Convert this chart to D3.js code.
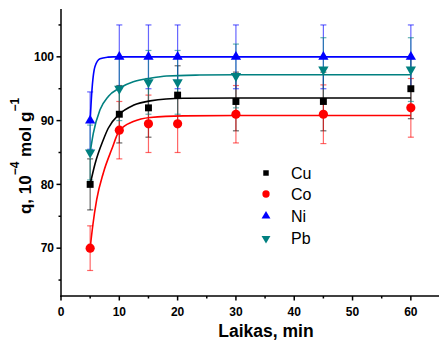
<!DOCTYPE html>
<html lang="en">
<head>
    <meta charset="UTF-8">
    <title>q vs Laikas</title>
    <style>
        body { margin: 0; background: #fff; }
        svg { display: block; font-family: 'Liberation Sans', Arial, sans-serif; }
    </style>
</head>
<body>
    <svg width="439" height="340"></svg>
    <script src="https://d3js.org/d3.v7.min.js"></script>
    <script>
        // Measured points (time, min)
        const times = [5, 10, 15, 20, 30, 45, 60];
        const cuValues = [80, 91, 92, 94, 93, 93, 95];
        const coValues = [70, 88.5, 89.5, 89.5, 91, 91, 92];
        const niValues = [90, 100, 100, 100, 100, 100, 100];
        const pbValues = [85, 95, 96, 96, 97, 98, 98];
        // Error bar half-heights
        const cuErrors = [4, 4.5, 4.6, 4.6, 4.6, 4.6, 4.7];
        const coErrors = [3.5, 4.5, 4.5, 4.5, 4.5, 4.6, 4.6];
        const niErrors = [4.5, 5, 5, 5, 5, 5, 5];
        const pbErrors = [4.3, 5, 5, 5, 5, 5, 5];

        // Fitted curves
        const cuFitT = [5, 5.83, 7.26, 8.1, 10, 12.4, 15.3, 21, 30, 60];
        const cuFitV = [80, 83.2, 87.0, 88.8, 91.0, 92.4, 93.1, 93.5, 93.55, 93.55];
        const coFitT = [5, 5.43, 6.12, 7.26, 8.7, 10, 12.4, 15.3, 21, 30, 60];
        const coFitV = [70, 73.4, 77.6, 81.8, 85.5, 88.4, 89.85, 90.5, 90.75, 90.8, 90.8];
        const niFitT = [5, 5.27, 5.83, 6.69, 8.06, 9, 60];
        const niFitV = [90, 94.3, 98.5, 99.7, 99.95, 100, 100];
        const pbFitT = [5, 5.54, 6.69, 8.11, 10, 12.4, 15.3, 18.1, 23.8, 30, 60];
        const pbFitV = [85, 88.0, 91.7, 93.8, 95.1, 96.1, 96.65, 97.0, 97.15, 97.2, 97.2];

        const xTicks = [0, 10, 20, 30, 40, 50, 60];
        const xMinor = [5, 15, 25, 35, 45, 55];
        const yTicks = [70, 80, 90, 100];
        const yMinor = [65, 75, 85, 95, 105];

        const series = [
            { name: "Cu", color: "#000000", symbol: d3.symbolSquare, size: 48, legendSize: 30, rot: 0, values: cuValues, errors: cuErrors, fitT: cuFitT, fitV: cuFitV },
            { name: "Co", color: "#ff0000", symbol: d3.symbolCircle, size: 66, legendSize: 42, rot: 0, values: coValues, errors: coErrors, fitT: coFitT, fitV: coFitV },
            { name: "Ni", color: "#0000ff", symbol: d3.symbolTriangle, size: 46, legendSize: 34, rot: 0, values: niValues, errors: niErrors, fitT: niFitT, fitV: niFitV },
            { name: "Pb", color: "#008080", symbol: d3.symbolTriangle, size: 46, legendSize: 34, rot: 180, values: pbValues, errors: pbErrors, fitT: pbFitT, fitV: pbFitV }
        ];

        const svg = d3.select("svg");
        const x = d3.scaleLinear().domain([0, 65]).range([61, 440]);
        const y = d3.scaleLinear().domain([62.5, 107.5]).range([296, 9]);

        // Error bars (drawn first, semi transparent)
        const errG = svg.append("g");
        series.forEach(s => {
            times.forEach((t, i) => {
                const g = errG.append("g")
                    .attr("stroke", s.color)
                    .attr("stroke-opacity", 0.6)
                    .attr("stroke-width", 1.2);
                const cx = x(t);
                const top = y(s.values[i] + s.errors[i]);
                const bot = y(s.values[i] - s.errors[i]);
                g.append("line").attr("x1", cx).attr("x2", cx).attr("y1", top).attr("y2", bot);
                g.append("line").attr("x1", cx - 3).attr("x2", cx + 3).attr("y1", top).attr("y2", top);
                g.append("line").attr("x1", cx - 3).attr("x2", cx + 3).attr("y1", bot).attr("y2", bot);
            });
        });

        // Fit curves
        const line = d3.line()
            .x(d => x(d[0]))
            .y(d => y(d[1]))
            .curve(d3.curveMonotoneX);
        series.forEach(s => {
            svg.append("path")
                .attr("d", line(s.fitT.map((t, i) => [t, s.fitV[i]])))
                .attr("fill", "none")
                .attr("stroke", s.color)
                .attr("stroke-width", 1.6);
        });

        // Markers
        series.forEach(s => {
            svg.append("g").selectAll("path")
                .data(times.map((t, i) => [t, s.values[i]]))
                .join("path")
                .attr("d", d3.symbol().type(s.symbol).size(s.size))
                .attr("transform", d => `translate(${x(d[0])},${y(d[1])}) rotate(${s.rot})`)
                .attr("fill", s.color);
        });

        // Axes
        const axisG = svg.append("g").attr("stroke", "#000").attr("stroke-width", 1.5);
        axisG.append("line").attr("x1", 61).attr("x2", 61).attr("y1", 9).attr("y2", 296.75);
        axisG.append("line").attr("x1", 60.25).attr("x2", 439).attr("y1", 296).attr("y2", 296);
        xTicks.forEach(t => axisG.append("line").attr("x1", x(t)).attr("x2", x(t)).attr("y1", 296).attr("y2", 300.5));
        xMinor.forEach(t => axisG.append("line").attr("x1", x(t)).attr("x2", x(t)).attr("y1", 296).attr("y2", 298.5));
        yTicks.forEach(v => axisG.append("line").attr("x1", 56.5).attr("x2", 61).attr("y1", y(v)).attr("y2", y(v)));
        yMinor.forEach(v => axisG.append("line").attr("x1", 58.5).attr("x2", 61).attr("y1", y(v)).attr("y2", y(v)));

        svg.append("g").selectAll("text")
            .data(xTicks)
            .join("text")
            .attr("x", d => x(d))
            .attr("y", 316)
            .attr("text-anchor", "middle")
            .attr("font-size", 12)
            .attr("font-weight", "bold")
            .text(d => d);

        svg.append("g").selectAll("text")
            .data(yTicks)
            .join("text")
            .attr("x", 54)
            .attr("y", d => y(d) + 4.3)
            .attr("text-anchor", "end")
            .attr("font-size", 12)
            .attr("font-weight", "bold")
            .text(d => d);

        // Axis titles
        svg.append("text")
            .attr("x", 266)
            .attr("y", 337)
            .attr("text-anchor", "middle")
            .attr("font-size", 17.5)
            .attr("font-weight", "bold")
            .text("Laikas, min");

        const yTitle = svg.append("text")
            .attr("transform", "translate(31,156) rotate(-90)")
            .attr("text-anchor", "middle")
            .attr("font-size", 17)
            .attr("font-weight", "bold");
        yTitle.append("tspan").text("q, 10");
        yTitle.append("tspan").attr("font-size", 12).attr("dy", -12).text("\u22124");
        yTitle.append("tspan").attr("dy", 12).text(" mol g");
        yTitle.append("tspan").attr("font-size", 12).attr("dy", -12).text("\u22121");

        // Legend
        const legendY = [173, 194, 216, 238.5];
        const legend = svg.append("g");
        series.forEach((s, i) => {
            legend.append("path")
                .attr("d", d3.symbol().type(s.symbol).size(s.legendSize))
                .attr("transform", `translate(266,${legendY[i]}) rotate(${s.rot})`)
                .attr("fill", s.color);
            legend.append("text")
                .attr("x", 291)
                .attr("y", legendY[i] + 5.8)
                .attr("font-size", 16)
                .text(s.name);
        });
    </script>
</body>
</html>
